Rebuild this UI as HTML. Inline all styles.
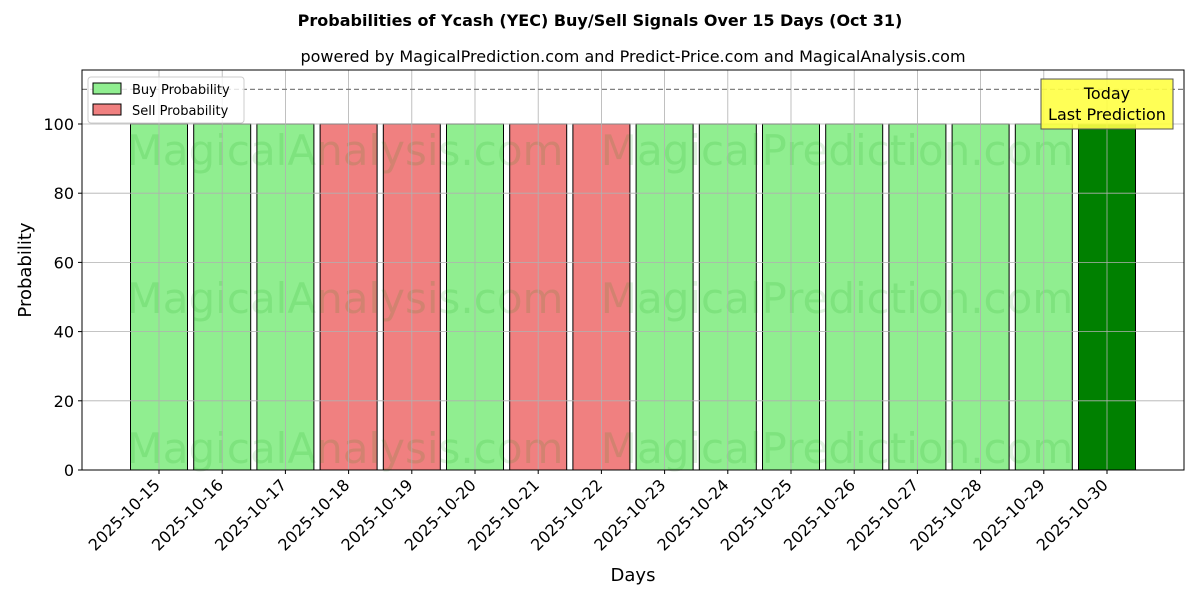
<!DOCTYPE html>
<html><head><meta charset="utf-8"><style>
body{margin:0;background:#fff;}
svg{display:block;font-family:"DejaVu Sans","Liberation Sans",sans-serif;}
</style></head><body>
<svg id="chart" width="1200" height="600">
<text x="600" y="26" text-anchor="middle" font-size="16" font-weight="bold">Probabilities of Ycash (YEC) Buy/Sell Signals Over 15 Days (Oct 31)</text>
<text x="633" y="62" text-anchor="middle" font-size="16">powered by MagicalPrediction.com and Predict-Price.com and MagicalAnalysis.com</text>
<g id="plot"></g>
</svg>
<script>
const days=["2025-10-15","2025-10-16","2025-10-17","2025-10-18","2025-10-19","2025-10-20","2025-10-21","2025-10-22","2025-10-23","2025-10-24","2025-10-25","2025-10-26","2025-10-27","2025-10-28","2025-10-29","2025-10-30"];
const values=[100,100,100,100,100,100,100,100,100,100,100,100,100,100,100,100];
const types=["buy","buy","buy","sell","sell","buy","sell","sell","buy","buy","buy","buy","buy","buy","buy","today"];
const yTicks=[0,20,40,60,80,100];
const L=82,R=1184,T=70,B=470;
const y=v=>B-v*3.46;
const x=i=>159+i*63.2;
const NS="http://www.w3.org/2000/svg";
const g=document.getElementById('plot');
function mk(t,a,p){const e=document.createElementNS(NS,t);for(const k in a)e.setAttribute(k,a[k]);(p||g).appendChild(e);return e;}
const colors={buy:"#90ee90",sell:"#f08080",today:"#008000"};
days.forEach((d,i)=>{
 const r=mk('rect',{x:x(i)-28.5,y:y(values[i]),width:57,height:B-y(values[i]),fill:colors[types[i]],stroke:"#000","stroke-width":1});
 
 
});
[150,298,448].forEach(wy=>{
 const a=mk('text',{x:345,y:wy+15,"text-anchor":"middle","font-size":42,fill:"rgba(0,150,0,0.12)"});a.textContent="MagicalAnalysis.com";
 
 
 const b=mk('text',{x:837,y:wy+15,"text-anchor":"middle","font-size":42,fill:"rgba(0,150,0,0.12)"});b.textContent="MagicalPrediction.com";
 
 
});
yTicks.forEach(v=>{
 const l=mk('line',{x1:L,x2:R,y1:y(v),y2:y(v),stroke:"#b0b0b0","stroke-width":0.8});
 
 
 mk('line',{x1:L-4,x2:L,y1:y(v),y2:y(v),stroke:"#000"});
 const t=mk('text',{x:L-8,y:y(v)+6,"text-anchor":"end","font-size":16});t.textContent=v;
 
 
});
days.forEach((d,i)=>{
 const l=mk('line',{x1:x(i),x2:x(i),y1:T,y2:B,stroke:"#b0b0b0","stroke-width":0.8});
 
 
 mk('line',{x1:x(i),x2:x(i),y1:B,y2:B+4,stroke:"#000"});
 const t=mk('text',{x:x(i)+2,y:B+16,"text-anchor":"end","font-size":16,transform:`rotate(-45 ${x(i)+2} ${B+16})`});t.textContent=d;
 
 
});
const dl=mk('line',{x1:L,x2:R,y1:y(110),y2:y(110),stroke:"#808080","stroke-width":1.2,"stroke-dasharray":"5,3"});


const fr=mk('rect',{x:L,y:T,width:R-L,height:B-T,fill:"none",stroke:"#000","stroke-width":1});


const xt=mk('text',{x:633,y:581,"text-anchor":"middle","font-size":18});xt.textContent="Days";


const yt=mk('text',{x:31,y:270,"text-anchor":"middle","font-size":18,transform:"rotate(-90 31 270)"});yt.textContent="Probability";


const lg=mk('g',{});


mk('rect',{x:88,y:77,width:156,height:46,rx:3,fill:"rgba(255,255,255,0.8)",stroke:"#ccc"},lg);
mk('rect',{x:93,y:83,width:28,height:11,fill:"#90ee90",stroke:"#000"},lg);
mk('rect',{x:93,y:104,width:28,height:11,fill:"#f08080",stroke:"#000"},lg);
const l1=mk('text',{x:132,y:94,"font-size":13},lg);l1.textContent="Buy Probability";


const l2=mk('text',{x:132,y:115,"font-size":13},lg);l2.textContent="Sell Probability";


const tb=mk('g',{});


mk('rect',{x:1041,y:79,width:132,height:50,fill:"#ffff44",stroke:"#555","fill-opacity":0.9},tb);
const a1=mk('text',{x:1107,y:99,"text-anchor":"middle","font-size":16},tb);a1.textContent="Today";
const a2=mk('text',{x:1107,y:120,"text-anchor":"middle","font-size":16},tb);a2.textContent="Last Prediction";
</script>
</body></html>
